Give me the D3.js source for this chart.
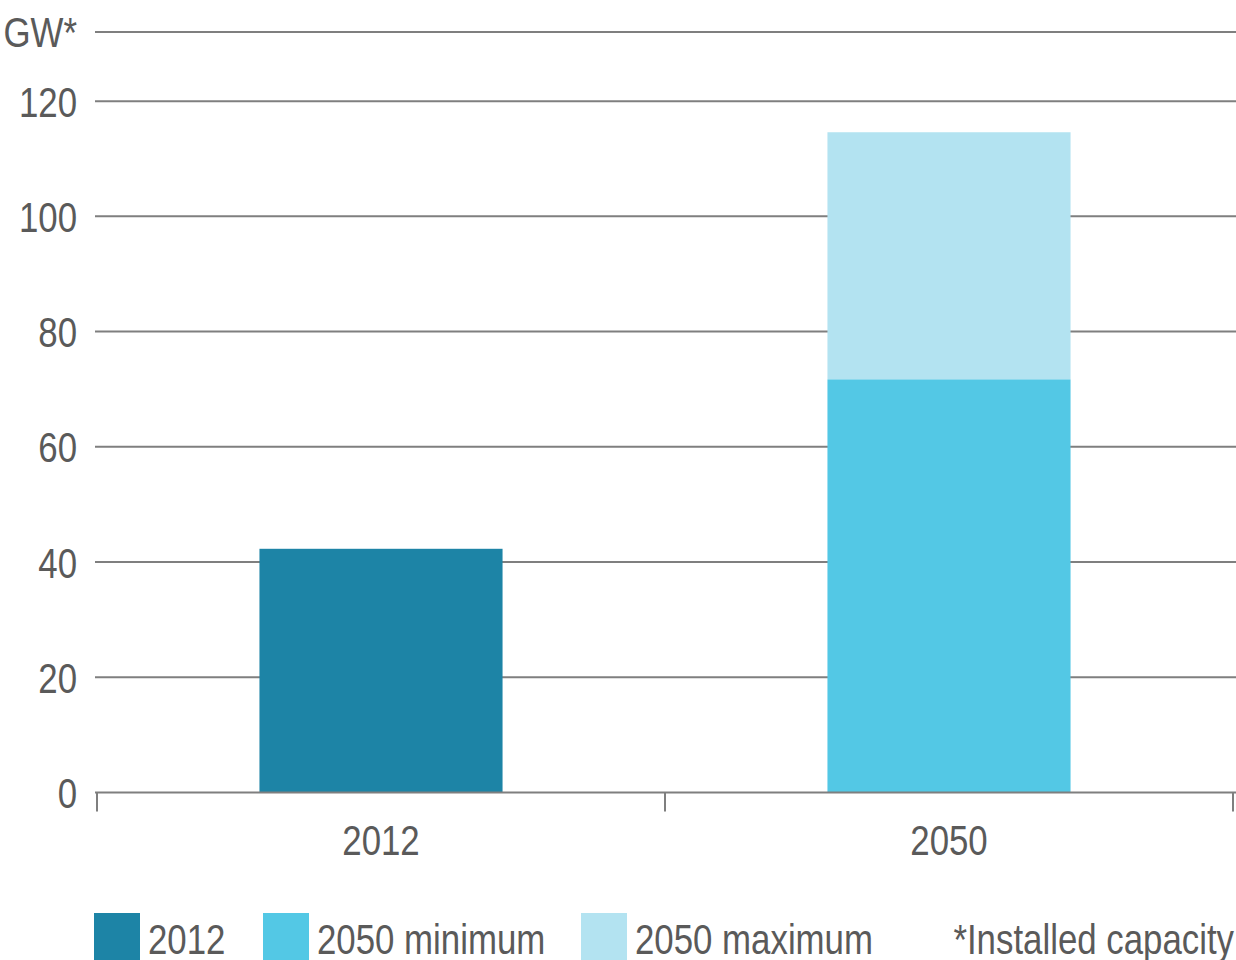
<!DOCTYPE html>
<html>
<head>
<meta charset="utf-8">
<script src="https://cdn.jsdelivr.net/npm/d3@7"></script>
<style>
  html, body { margin: 0; padding: 0; background: #fff; }
  svg text { font-family: "Liberation Sans", Arial, sans-serif; fill: #5a5a5a; }
</style>
</head>
<body>
<svg id="chart" width="1236" height="960"></svg>
<script>
// Installed capacity, GW
const categories = ["2012", "2050"];
const value2012 = [42.3, 0];
const value2050Min = [0, 71.7];
const value2050Max = [0, 114.6];
const yTicks = [0, 20, 40, 60, 80, 100, 120];
const unitLabel = "GW*";
const yTop = 132;
const legendItems = ["2012", "2050 minimum", "2050 maximum"];
const footnote = "*Installed capacity";

const colors = { c2012: "#1d84a6", cMin: "#53c8e5", cMax: "#b3e3f1", grid: "#7f7f7f" };
const fontSize = 43;
const narrow = 0.81; // horizontal squeeze for a condensed look

const svg = d3.select("#chart");
const plotLeft = 97, plotRight = 1233, gridLeft = 95, gridRight = 1236;
const yBottom = 792.5, yTopPx = 32;

const x = d3.scaleBand().domain(categories).range([plotLeft, plotRight]).paddingInner(0).paddingOuter(0);
const y = d3.scaleLinear().domain([0, yTop]).range([yBottom, yTopPx]);
const barFrac = 0.428;
const barW = x.bandwidth() * barFrac;
const barX = c => x(c) + (x.bandwidth() - barW) / 2;

// Condensed text helper
function label(g, tx, ty, txt, anchor, dy) {
  return g.append("text")
    .attr("transform", `translate(${tx},${ty}) scale(${narrow},1)`)
    .attr("text-anchor", anchor || "start")
    .attr("dy", dy || null)
    .attr("font-size", fontSize)
    .text(txt);
}

// Gridlines
const gridVals = yTicks.slice(1).concat([yTop]);
svg.append("g").selectAll("line").data(gridVals).join("line")
  .attr("x1", gridLeft).attr("x2", gridRight)
  .attr("y1", d => y(d)).attr("y2", d => y(d))
  .attr("stroke", colors.grid).attr("stroke-width", 2);

// Bars: 2012 and stacked 2050 minimum/maximum
const bars = svg.append("g");
categories.forEach((c, i) => {
  if (value2012[i] > 0) {
    bars.append("rect").attr("x", barX(c)).attr("width", barW)
      .attr("y", y(value2012[i])).attr("height", y(0) - y(value2012[i])).attr("fill", colors.c2012);
  }
  if (value2050Max[i] > 0) {
    bars.append("rect").attr("x", barX(c)).attr("width", barW)
      .attr("y", y(value2050Max[i])).attr("height", y(value2050Min[i]) - y(value2050Max[i])).attr("fill", colors.cMax);
  }
  if (value2050Min[i] > 0) {
    bars.append("rect").attr("x", barX(c)).attr("width", barW)
      .attr("y", y(value2050Min[i])).attr("height", y(0) - y(value2050Min[i])).attr("fill", colors.cMin);
  }
});

// Y tick labels and unit
const yLabels = svg.append("g");
yTicks.forEach(d => label(yLabels, 77, y(d), d, "end", "0.36em"));
label(yLabels, 77, y(yTop), unitLabel, "end", "0.36em");

// X axis
const xAxis = svg.append("g");
xAxis.append("line").attr("x1", gridLeft).attr("x2", gridRight)
  .attr("y1", y(0)).attr("y2", y(0)).attr("stroke", colors.grid).attr("stroke-width", 2);
const boundaries = categories.map(c => x(c)).concat([x(categories[categories.length - 1]) + x.bandwidth()]);
xAxis.selectAll("line.tick").data(boundaries).join("line").attr("class", "tick")
  .attr("x1", d => d).attr("x2", d => d).attr("y1", y(0)).attr("y2", y(0) + 19)
  .attr("stroke", colors.grid).attr("stroke-width", 2);
categories.forEach(c => label(xAxis, x(c) + x.bandwidth() / 2, 855, c, "middle"));

// Legend
const legendColors = [colors.c2012, colors.cMin, colors.cMax];
const legendX = [94, 263, 581];
const legend = svg.append("g");
legendItems.forEach((t, i) => {
  legend.append("rect").attr("x", legendX[i]).attr("y", 913).attr("width", 46).attr("height", 47).attr("fill", legendColors[i]);
  label(legend, legendX[i] + 54, 954, t, "start");
});
label(legend, 1234, 954, footnote, "end");
</script>
</body>
</html>
